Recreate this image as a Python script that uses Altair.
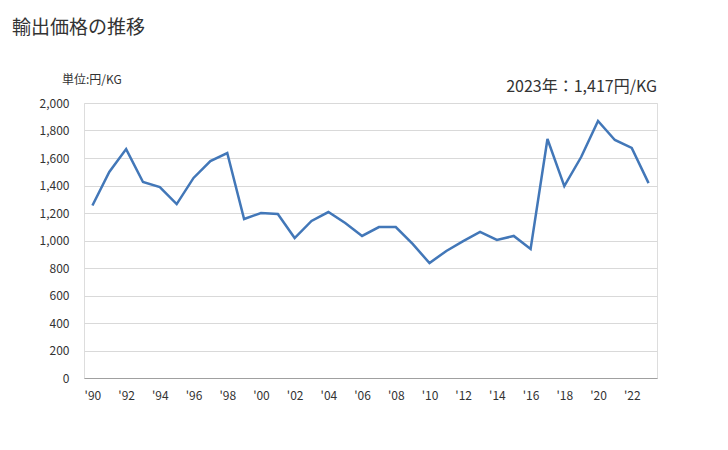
import altair as alt
import pandas as pd

years = list(range(1990, 2024))
values = [1255, 1498, 1665, 1425, 1389, 1265, 1455, 1578, 1636, 1156,
          1200, 1193, 1018, 1142, 1207, 1127, 1033, 1098, 1098, 975,
          836, 924, 996, 1062, 1004, 1033, 938, 1738, 1396, 1607,
          1869, 1731, 1673, 1417]
title_text = "輸出価格の推移"
unit_text = "単位:円/KG"
note_text = "2023年：1,417円/KG"

df = pd.DataFrame({"year": [str(y) for y in years], "value": values})
FONT = "Noto Sans CJK JP"
W, H = 573, 275

line = alt.Chart(df).mark_line(color="#4277b8", strokeWidth=2.5).encode(
    x=alt.X("year:O", sort=None,
            scale=alt.Scale(paddingInner=0, paddingOuter=0),
            axis=alt.Axis(title=None, labelAngle=0, ticks=False,
                          domainColor="#a0a0a0", domainWidth=1,
                          labelExpr="toNumber(datum.value) % 2 == 0 ? \"'\" + substring(datum.value, 2, 4) : ''",
                          labelFont=FONT, labelFontSize=12, labelColor="#333333",
                          labelPadding=12)),
    y=alt.Y("value:Q", scale=alt.Scale(domain=[0, 2000], nice=False),
            axis=alt.Axis(title=None, values=list(range(0, 2001, 200)),
                          format=",.0f", ticks=False, domain=False,
                          gridColor="#d9d9d9", gridWidth=1,
                          labelFont=FONT, labelFontSize=12, labelColor="#333333",
                          labelPadding=15)),
)


def label(text, x, y, size, align):
    return alt.Chart(pd.DataFrame({"t": [text]})).mark_text(
        align=align, baseline="middle", font=FONT, fontSize=size,
        fontWeight="normal", color="#333333").encode(
        x=alt.value(x), y=alt.value(y), text="t:N")


title = label(title_text, -72, -75, 19, "left")
unit = label(unit_text, -22, -23, 12, "left")
note = label(note_text, W, -16, 16, "right")

chart = alt.layer(line, title, unit, note).properties(
    width=W, height=H,
    autosize=alt.AutoSizeParams(type="none"),
    padding={"left": 84, "top": 103, "right": 71, "bottom": 72},
).configure_view(stroke=None).configure(background="white")

chart.save("out.html", embed_options={"renderer": "svg", "actions": False})
